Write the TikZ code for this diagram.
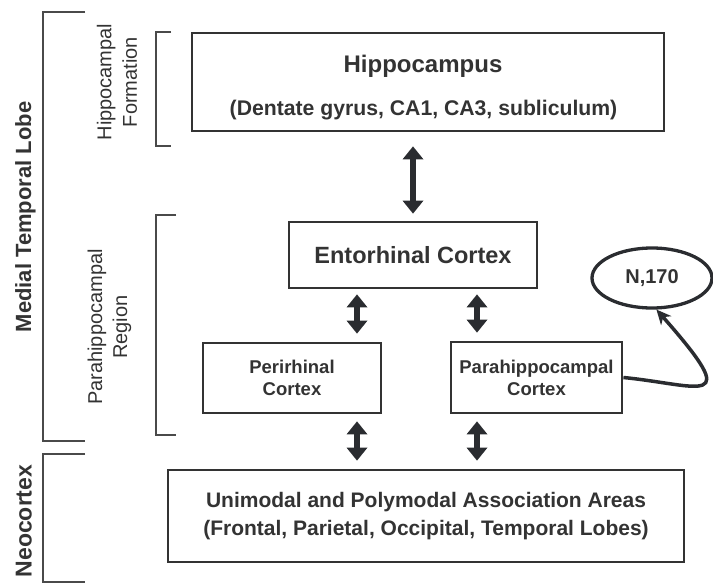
\documentclass[tikz,border=0pt]{standalone}
\usepackage{fontspec}
\setmainfont{Liberation Sans}
\usetikzlibrary{arrows.meta,shapes.geometric}
\definecolor{ink}{HTML}{333333}
\definecolor{arr}{HTML}{2A2C30}
\definecolor{brk}{HTML}{4A4A4A}
\begin{document}
\begin{tikzpicture}[x=1pt,y=-1pt,
  box/.style={draw=ink, line width=2.8pt, rectangle, inner sep=0pt, text=ink, font=\bfseries, align=center},
  lbl/.style={text=ink, inner sep=0pt, align=center},
  bracket/.style={draw=brk, line width=2.2pt},
  dbl/.style={draw=arr, line width=6.5pt,
    {Triangle[width=21pt,length=13pt,line width=0pt]}-{Triangle[width=21pt,length=13pt,line width=0pt]}},
  curvearrow/.style={draw=arr, line width=3.5pt, -{Stealth[length=15pt,width=14pt,line width=0pt]}}
]
\useasboundingbox (0,0) rectangle (713,584);

% brackets
\draw[bracket] (85,12) -- (43,12) -- (43,441) -- (85,441);
\draw[bracket] (85,454) -- (43,454) -- (43,582) -- (85,582);
\draw[bracket] (171,32) -- (156,32) -- (156,146) -- (171,146);
\draw[bracket] (176,215) -- (156,215) -- (156,435) -- (176,435);

% side labels
\node[lbl, rotate=90, anchor=base, font=\fontsize{22}{26}\selectfont\bfseries] (mtl) at (31,217) {Medial Temporal Lobe};
\node[lbl, rotate=90, anchor=base, font=\fontsize{23}{27}\selectfont\bfseries] (neolbl) at (31.5,521) {Neocortex};
\node[lbl, rotate=90, font=\fontsize{20}{25.5}\selectfont] (hflbl) at (117,82) {Hippocampal\\Formation};
\node[lbl, rotate=90, font=\fontsize{20}{25}\selectfont] (prlbl) at (109.5,327) {Parahippocampal\\Region};

% boxes
\node[box, minimum width=472pt, minimum height=98pt] (hippo) at (428,82) {};
\node[lbl, anchor=base, font=\fontsize{24}{28}\selectfont\bfseries] (hippoT) at (423,72) {Hippocampus};
\node[lbl, anchor=base, font=\fontsize{21.2}{25}\selectfont\bfseries] (hippoS) at (423.5,115) {(Dentate gyrus, CA1, CA3, subliculum)};

\node[box, minimum width=248pt, minimum height=66pt, font=\fontsize{23.5}{28}\selectfont\bfseries] (ento) at (413,255) {Entorhinal Cortex};
\node[box, minimum width=178pt, minimum height=70pt, font=\fontsize{18.5}{22}\selectfont\bfseries] (peri) at (292,378) {Perirhinal\\Cortex};
\node[box, minimum width=171pt, minimum height=71pt, font=\fontsize{18.5}{22}\selectfont\bfseries] (parahip) at (536.5,377.5) {Parahippocampal\\Cortex};
\node[box, minimum width=516pt, minimum height=92pt, font=\fontsize{21}{27.5}\selectfont\bfseries] (neo) at (426,516) {Unimodal and Polymodal Association Areas\\(Frontal, Parietal, Occipital, Temporal Lobes)};
\node[draw=arr, line width=3.3pt, ellipse, inner sep=0pt, minimum width=120pt, minimum height=60pt, text=ink, font=\fontsize{20}{24}\selectfont\bfseries] (ell) at (652,278) {N,170};

% double arrows
\draw[dbl, shorten <=14pt, shorten >=7pt] (hippo.south -| ento.north) -- (ento.north);
\draw[dbl, shorten <=5pt, shorten >=8pt] ([xshift=-56pt]ento.south) -- ([xshift=-56pt]ento.south |- peri.north);
\draw[dbl, shorten <=5pt, shorten >=8pt] ([xshift=64pt]ento.south) -- ([xshift=64pt]ento.south |- parahip.north);
\draw[dbl, shorten <=7pt, shorten >=8pt] ([xshift=-56pt]ento.south |- peri.south) -- ([xshift=-56pt]ento.south |- neo.north);
\draw[dbl, shorten <=7pt, shorten >=8pt] ([xshift=64pt]ento.south |- parahip.south) -- ([xshift=64pt]ento.south |- neo.north);

% curved arrow
\draw[curvearrow] (parahip.east) .. controls (700,385) and (745,410) .. (ell.-82);
\end{tikzpicture}
\end{document}
